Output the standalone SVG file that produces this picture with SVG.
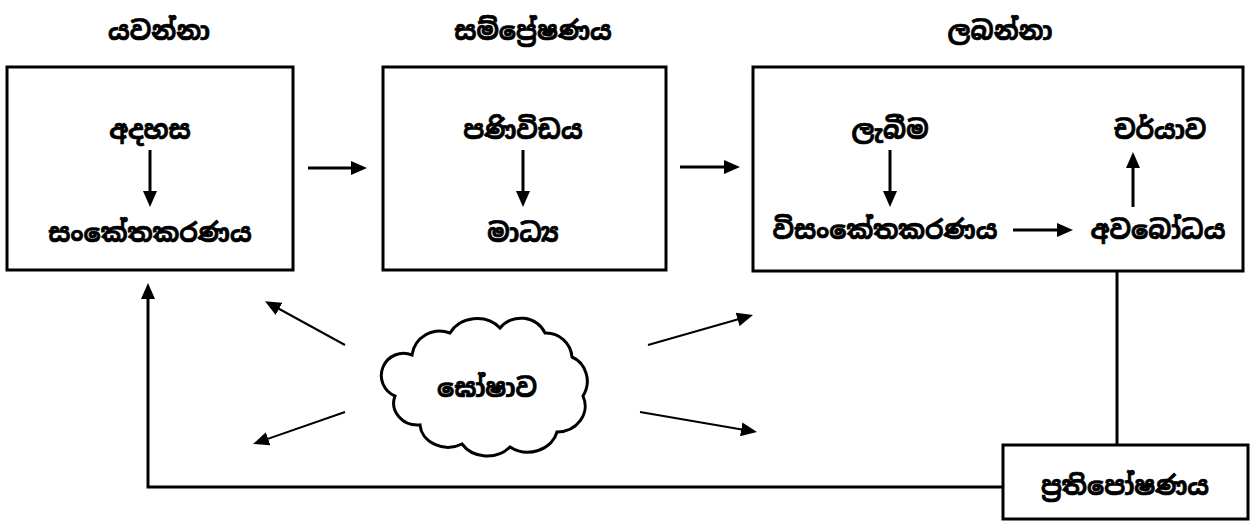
<svg xmlns="http://www.w3.org/2000/svg" width="1255" height="528" viewBox="0 0 1255 528">
<style>
text{font-family:"Noto Sans Sinhala","Noto Serif Sinhala","Noto Sans","DejaVu Sans",sans-serif;font-weight:bold;font-size:25.5px;fill:#000;stroke:#000;stroke-width:0.7;text-anchor:middle}
.box{fill:#fff;stroke:#000;stroke-width:3}
.c{fill:none;stroke:#000;stroke-width:3}
.t{fill:none;stroke:#000;stroke-width:2}
</style>
<defs>
<marker id="ah" viewBox="0 0 16 14" refX="8" refY="7" markerWidth="16" markerHeight="14" markerUnits="userSpaceOnUse" orient="auto"><path d="M0,0 L16,7 L0,14 z" fill="#000"/></marker>
</defs>
<g id="headers">
<text x="159" y="40">යවන්නා</text>
<text x="533" y="40">සම්ප්‍රේෂණය</text>
<text x="1000" y="40">ලබන්නා</text>
</g>
<g id="sender">
<rect class="box" x="7" y="67" width="286" height="203"/>
<text x="150" y="139">අදහස</text>
<text x="150" y="242">සංකේතකරණය</text>
</g>
<g id="channel">
<rect class="box" x="383" y="67" width="283" height="203"/>
<text x="523" y="139">පණිවිඩය</text>
<text x="523" y="242">මාධ්‍ය</text>
</g>
<g id="receiver">
<rect class="box" x="753" y="67" width="490" height="204"/>
<text x="890" y="139">ලැබීම</text>
<text x="885" y="239">විසංකේතකරණය</text>
<text x="1158" y="239">අවබෝධය</text>
<text x="1160" y="139">චර්යාව</text>
</g>
<g id="noise">
<path class="c" d="M412,355 A28,28 0 0 1 450,333 A30,26 0 0 1 500,328 A26,24 0 0 1 545,333 A26,26 0 0 1 572,357 A24,26 0 0 1 583,396 A28,26 0 0 1 557,432 A30,26 0 0 1 510,447 A30,26 0 0 1 462,444 A28,24 0 0 1 420,425 A24,22 0 0 1 395,396 A22,22 0 0 1 412,355 Z" fill="#fff"/>
<text x="487" y="397">ඝෝෂාව</text>
</g>
<g id="feedback">
<rect class="box" x="1003" y="445" width="245" height="74"/>
<text x="1125" y="495">ප්‍රතිපෝෂණය</text>
</g>
<g id="connectors">
<path class="c" d="M308,168 H359" marker-end="url(#ah)"/>
<path class="c" d="M680,167 H732" marker-end="url(#ah)"/>
<path class="c" d="M150,150 V199" marker-end="url(#ah)"/>
<path class="c" d="M523,150 V199" marker-end="url(#ah)"/>
<path class="c" d="M890,150 V199" marker-end="url(#ah)"/>
<path class="c" d="M1013,230 H1065" marker-end="url(#ah)"/>
<path class="c" d="M1133,207 V160" marker-end="url(#ah)"/>
<path class="c" d="M1117,271 V445"/>
<path class="c" d="M1003,487 H148 V291" marker-end="url(#ah)"/>
<path class="t" d="M345,345 L272,305" marker-end="url(#ah)"/>
<path class="t" d="M345,412 L260.6,441.4" marker-end="url(#ah)"/>
<path class="t" d="M648,345 L745.3,317.2" marker-end="url(#ah)"/>
<path class="t" d="M640,412 L749.1,430.7" marker-end="url(#ah)"/>
</g>
</svg>
